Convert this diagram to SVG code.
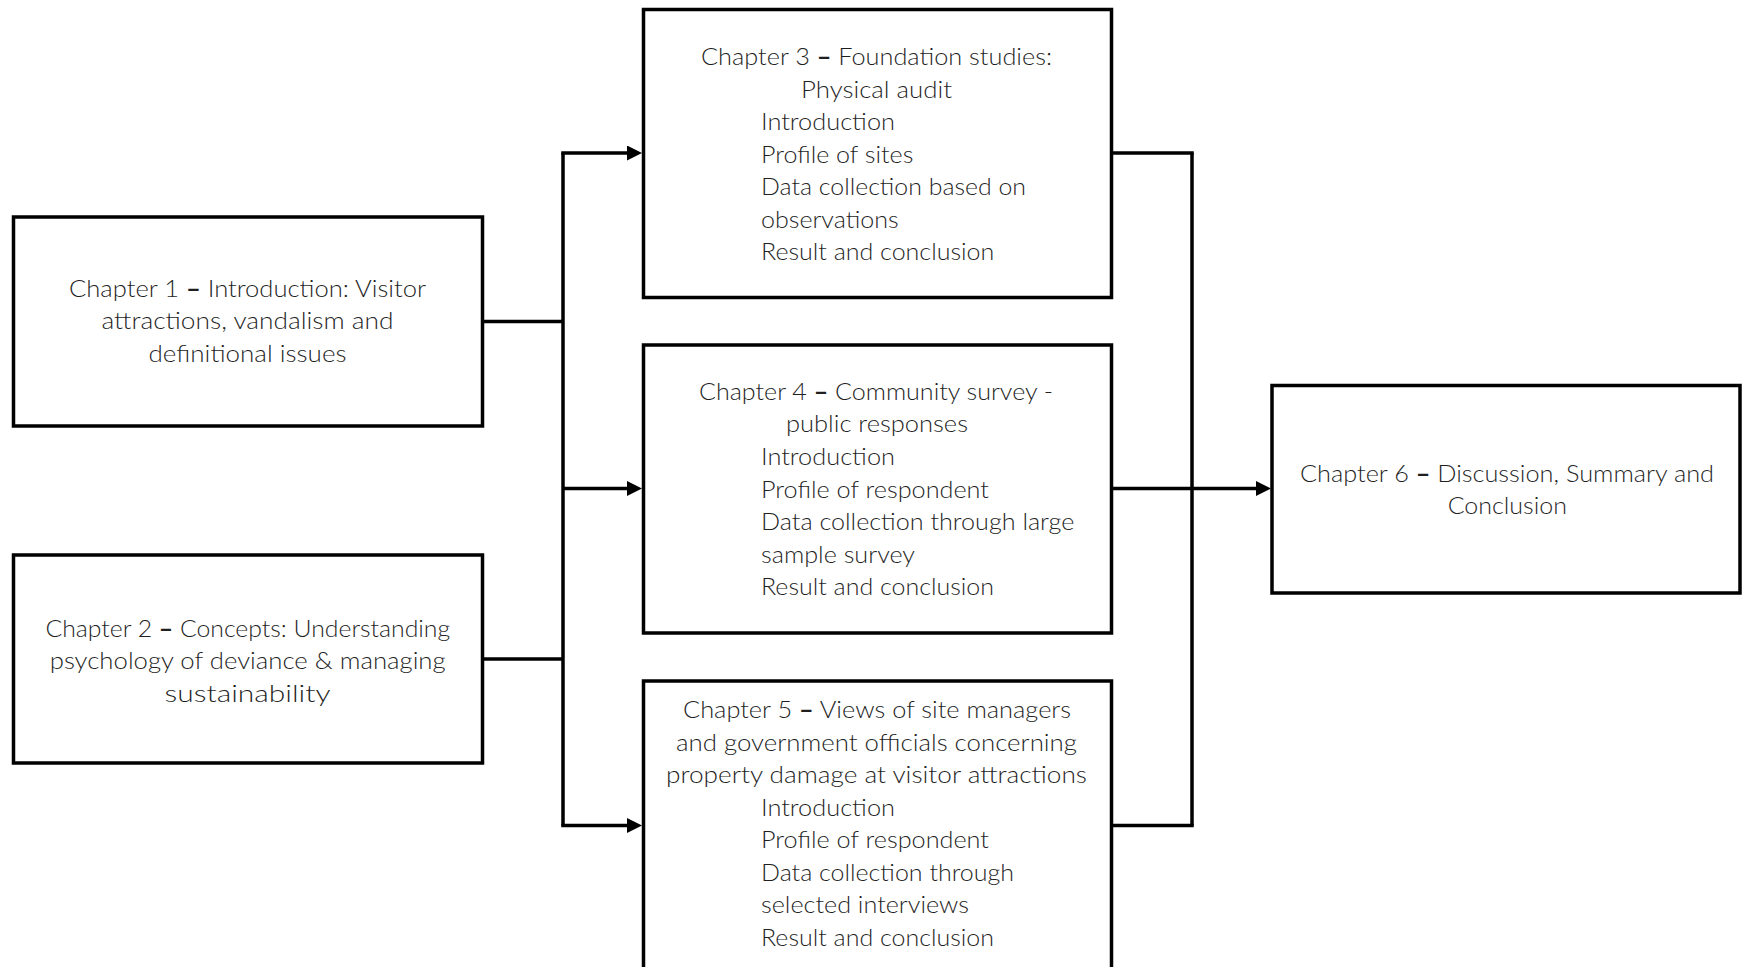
<svg xmlns="http://www.w3.org/2000/svg" width="1747" height="967" viewBox="0 0 1747 967">
<style>
.box{fill:#ffffff;stroke:#000000;stroke-width:3.5}
.ln{fill:none;stroke:#000000;stroke-width:3.5;stroke-linejoin:miter}
text{font-family:"Lato","Open Sans","Liberation Sans",sans-serif;font-size:24px;font-weight:300;fill:#1f1f1f}
.c{text-anchor:middle}
.d{font-weight:bold}
</style>
<defs>
<marker id="arr" markerUnits="userSpaceOnUse" markerWidth="16" markerHeight="16" refX="5" refY="7.5" orient="auto">
<path d="M0,0 L15,7.5 L0,15 Z" fill="#000000"/>
</marker>
</defs>
<rect width="1747" height="967" fill="#ffffff"/>
<g id="connectors">
<path class="ln" d="M482,321.5 H563"/>
<path class="ln" d="M482,659 H563"/>
<path class="ln" d="M563,153 V825.5"/>
<path class="ln" d="M561.25,153 H632" marker-end="url(#arr)"/>
<path class="ln" d="M563,488.5 H632" marker-end="url(#arr)"/>
<path class="ln" d="M561.25,825.5 H632" marker-end="url(#arr)"/>
<path class="ln" d="M1111,153 H1193.75"/>
<path class="ln" d="M1111,825.5 H1193.75"/>
<path class="ln" d="M1192,153 V825.5"/>
<path class="ln" d="M1111,488.5 H1261" marker-end="url(#arr)"/>
</g>
<g id="ch1">
<rect class="box" x="13.5" y="217" width="469" height="209"/>
<text class="c" x="247.5" y="296.7" textLength="357" lengthAdjust="spacingAndGlyphs">Chapter 1 <tspan class="d">–</tspan> Introduction: Visitor</text>
<text class="c" x="247.5" y="329.3" textLength="292" lengthAdjust="spacingAndGlyphs">attractions, vandalism and</text>
<text class="c" x="247.5" y="361.7" textLength="198" lengthAdjust="spacingAndGlyphs">definitional issues</text>
</g>
<g id="ch2">
<rect class="box" x="13.5" y="555" width="469" height="208"/>
<text class="c" x="247.8" y="636.7" textLength="404.7" lengthAdjust="spacingAndGlyphs">Chapter 2 <tspan class="d">–</tspan> Concepts: Understanding</text>
<text class="c" x="247.7" y="668.5" textLength="396" lengthAdjust="spacingAndGlyphs">psychology of deviance &amp; managing</text>
<text class="c" x="247.5" y="701.5" textLength="166" lengthAdjust="spacingAndGlyphs">sustainability</text>
</g>
<g id="ch3">
<rect class="box" x="643.5" y="9.5" width="468" height="288"/>
<text class="c" x="876.5" y="65" textLength="351" lengthAdjust="spacingAndGlyphs">Chapter 3 <tspan class="d">–</tspan> Foundation studies:</text>
<text class="c" x="876.5" y="97.5" textLength="151" lengthAdjust="spacingAndGlyphs">Physical audit</text>
<text x="761" y="130" textLength="134" lengthAdjust="spacingAndGlyphs">Introduction</text>
<text x="761" y="162.5" textLength="152.3" lengthAdjust="spacingAndGlyphs">Profile of sites</text>
<text x="761" y="195" textLength="265" lengthAdjust="spacingAndGlyphs">Data collection based on</text>
<text x="761" y="227.5" textLength="137.7" lengthAdjust="spacingAndGlyphs">observations</text>
<text x="761" y="260" textLength="233.3" lengthAdjust="spacingAndGlyphs">Result and conclusion</text>
</g>
<g id="ch4">
<rect class="box" x="643.5" y="345" width="468" height="288"/>
<text class="c" x="876" y="400" textLength="354" lengthAdjust="spacingAndGlyphs">Chapter 4 <tspan class="d">–</tspan> Community survey -</text>
<text class="c" x="877" y="432" textLength="182" lengthAdjust="spacingAndGlyphs">public responses</text>
<text x="761" y="465" textLength="134" lengthAdjust="spacingAndGlyphs">Introduction</text>
<text x="761" y="497.5" textLength="228" lengthAdjust="spacingAndGlyphs">Profile of respondent</text>
<text x="761" y="530" textLength="313.3" lengthAdjust="spacingAndGlyphs">Data collection through large</text>
<text x="761" y="562.5" textLength="154" lengthAdjust="spacingAndGlyphs">sample survey</text>
<text x="761" y="595" textLength="233" lengthAdjust="spacingAndGlyphs">Result and conclusion</text>
</g>
<g id="ch5">
<rect class="box" x="643.5" y="681" width="468" height="320"/>
<text class="c" x="877" y="718.3" textLength="388" lengthAdjust="spacingAndGlyphs">Chapter 5 <tspan class="d">–</tspan> Views of site managers</text>
<text class="c" x="876.5" y="750.7" textLength="401" lengthAdjust="spacingAndGlyphs">and government officials concerning</text>
<text class="c" x="876.5" y="783" textLength="421" lengthAdjust="spacingAndGlyphs">property damage at visitor attractions</text>
<text x="761" y="815.7" textLength="134" lengthAdjust="spacingAndGlyphs">Introduction</text>
<text x="761" y="848.3" textLength="228" lengthAdjust="spacingAndGlyphs">Profile of respondent</text>
<text x="761" y="880.7" textLength="253" lengthAdjust="spacingAndGlyphs">Data collection through</text>
<text x="761" y="913.3" textLength="208" lengthAdjust="spacingAndGlyphs">selected interviews</text>
<text x="761" y="946" textLength="233" lengthAdjust="spacingAndGlyphs">Result and conclusion</text>
</g>
<g id="ch6">
<rect class="box" x="1272" y="385.5" width="468" height="207.5"/>
<text class="c" x="1507" y="481.7" textLength="414" lengthAdjust="spacingAndGlyphs">Chapter 6 <tspan class="d">–</tspan> Discussion, Summary and</text>
<text class="c" x="1507.3" y="514" textLength="119.3" lengthAdjust="spacingAndGlyphs">Conclusion</text>
</g>
</svg>
